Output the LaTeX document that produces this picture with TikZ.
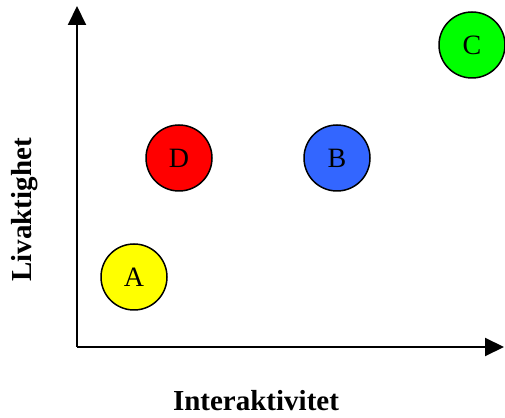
\documentclass[tikz,border=0pt]{standalone}
\usepackage{fontspec}
\setmainfont{Liberation Serif}
\usepackage{tikz}
\usetikzlibrary{arrows.meta, positioning}

\definecolor{ballA}{RGB}{255,255,0}
\definecolor{ballB}{RGB}{51,102,255}
\definecolor{ballC}{RGB}{0,255,0}
\definecolor{ballD}{RGB}{255,0,0}

\begin{document}
\begin{tikzpicture}[
    x=1pt, y=1pt,
    ball/.style={draw, circle, line width=1.5pt, minimum size=66pt,
                 inner sep=0pt, font=\fontsize{28}{30}\selectfont},
    axis/.style={line width=2pt},
    axlab/.style={font=\bfseries\fontsize{29}{31}\selectfont, inner sep=0pt},
    >={Triangle[length=19pt, width=18pt]},
]
\useasboundingbox (0,0) rectangle (505,417);
% --- axes -------------------------------------------------------------------
\coordinate (origin) at (77,70);
\coordinate (ytop) at (77,411);
\coordinate (xend) at (504,70);
\draw[axis,->] (origin) -- (ytop);
\draw[axis,->] (origin) -- (xend);
\node[axlab, rotate=90] (ylab) at (25,207) {Livaktighet};
\node[axlab] (xlab) at (256,16) {Interaktivitet};
% --- the four points ----------------------------------------------------------
\node[ball, fill=ballA] (A) at (134,140) {A};
\node[ball, fill=ballD] (D) at (179,259) {D};
\node[ball, fill=ballB] (B) at (337,259) {B};
\node[ball, fill=ballC] (C) at (472,372) {C};
\end{tikzpicture}
\end{document}
